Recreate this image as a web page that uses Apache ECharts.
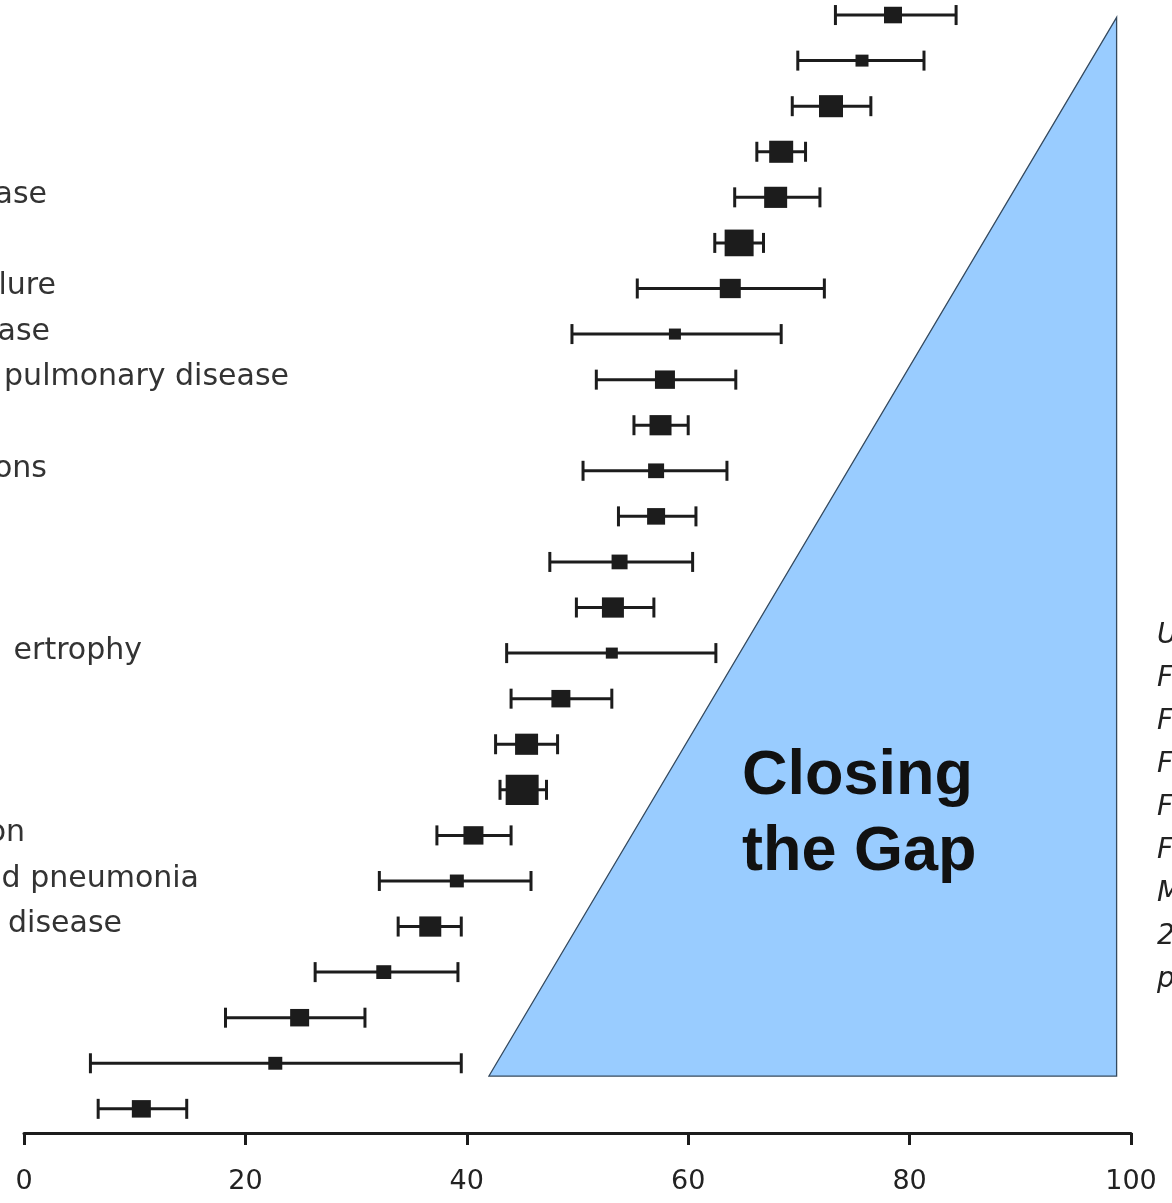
<!DOCTYPE html>
<html>
<head>
<meta charset="utf-8">
<script src="https://cdn.jsdelivr.net/npm/echarts@6/dist/echarts.min.js"></script>
<style>html,body{margin:0;padding:0;background:#fff}#c{width:1172px;height:1203px}</style>
</head>
<body>
<div id="c"></div>
<script>
// rows from top (0) to bottom (24)
const estimates = [78.5,75.7,72.9,68.4,67.9,64.6,63.8,58.8,57.9,57.5,57.1,57.1,53.8,53.2,53.1,48.5,45.4,45.0,40.6,39.1,36.7,32.5,24.9,22.7,10.6];
const lowerCI   = [73.3,69.9,69.4,66.2,64.2,62.4,55.4,49.5,51.7,55.1,50.5,53.7,47.5,49.9,43.6,44.0,42.6,43.0,37.3,32.1,33.8,26.3,18.2,6.0,6.7];
const upperCI   = [84.2,81.3,76.5,70.6,71.9,66.8,72.3,68.4,64.3,60.0,63.5,60.7,60.4,56.9,62.5,53.1,48.2,47.2,44.0,45.8,39.5,39.2,30.8,39.5,14.7];
const weights   = [18,13,24,24,23,29,21,12,20,22,16,18,16,22,12,19,23,33,20,14,22,15,19,14,19];
// visible (cropped) fragments of the row labels
const labelRows = [4,6,7,8,10,14,18,19,20];
const labelText = ['ase','lure','ase','pulmonary disease','ons','ertrophy','on','d pneumonia',' disease'];
const labelEndX = [47,56,50,289,47,142,25,199,122];
// triangle "Closing the Gap"
const triX = [42.0, 98.7, 98.7];
const triY = [23.28, 0.05, 23.28];
const xTicks = [0,20,40,60,80,100];
// cropped citation letters at right edge
const sideText = ['U','F','F','F','F','F','M','2','p'];

const chart = echarts.init(document.getElementById('c'));
const rows = estimates.map((_, i) => i);

function renderErr(params, api) {
  const y = api.value(0), lo = api.value(1), hi = api.value(2);
  const p1 = api.coord([lo, y]), p2 = api.coord([hi, y]);
  const cap = 10, st = {stroke: '#1c1c1c', lineWidth: 3};
  return {type: 'group', children: [
    {type: 'line', shape: {x1: p1[0], y1: p1[1], x2: p2[0], y2: p2[1]}, style: st},
    {type: 'line', shape: {x1: p1[0], y1: p1[1] - cap, x2: p1[0], y2: p1[1] + cap}, style: st},
    {type: 'line', shape: {x1: p2[0], y1: p2[1] - cap, x2: p2[0], y2: p2[1] + cap}, style: st}
  ]};
}
function renderTri(params, api) {
  if (params.dataIndex !== 0) return;
  const pts = triX.map((x, i) => api.coord([x, triY[i]]));
  return {type: 'polygon', shape: {points: pts},
    style: {fill: '#99ccff', stroke: '#34495e', lineWidth: 1.3}};
}

chart.setOption({
  animation: false,
  grid: {left: 24, right: 41, top: 0, bottom: 70},
  xAxis: {
    type: 'value', min: 0, max: 100, interval: 20, position: 'bottom',
    axisLine: {show: true, onZero: false, lineStyle: {color: '#1c1c1c', width: 3}},
    axisTick: {show: true, length: 12, lineStyle: {color: '#1c1c1c', width: 3}},
    axisLabel: {margin: 35, fontSize: 27, color: '#222', fontFamily: 'DejaVu Sans'},
    splitLine: {show: false}
  },
  yAxis: {type: 'value', inverse: true, min: -0.33, max: 24.53, show: false},
  series: [
    {type: 'custom', renderItem: renderTri, data: [[triX[0], triY[0]]], z: 1, silent: true},
    {type: 'custom', renderItem: renderErr, z: 2,
     data: rows.map(i => [i, lowerCI[i], upperCI[i]]), encode: {x: [1, 2], y: 0}},
    {type: 'scatter', z: 3, symbol: 'rect',
     data: rows.map(i => [estimates[i], i, weights[i]]),
     symbolSize: v => [v[2], v[2] * 0.92],
     itemStyle: {color: '#1c1c1c', opacity: 1}}
  ]
});

const graphics = [];
labelRows.forEach((r, k) => {
  const y = chart.convertToPixel({gridIndex: 0}, [0, r])[1];
  graphics.push({type: 'text', x: labelEndX[k], y: y - 2, z: 100,
    style: {text: labelText[k], fill: '#333', font: '30px "DejaVu Sans"', textAlign: 'right', textVerticalAlign: 'middle'}});
});
sideText.forEach((t, k) => {
  graphics.push({type: 'text', x: 1157, y: 636 + k * 43, z: 100,
    style: {text: t, fill: '#222', font: 'italic 28px "DejaVu Sans"', textAlign: 'left', textVerticalAlign: 'middle'}});
});
graphics.push({type: 'text', x: 742, y: 777, z: 100, style: {text: 'Closing', fill: '#111', font: 'bold 63px "Liberation Sans"', textAlign: 'left', textVerticalAlign: 'middle'}});
graphics.push({type: 'text', x: 742, y: 853, z: 100, style: {text: 'the Gap', fill: '#111', font: 'bold 63px "Liberation Sans"', textAlign: 'left', textVerticalAlign: 'middle'}});
chart.setOption({graphic: graphics});
</script>
</body>
</html>
